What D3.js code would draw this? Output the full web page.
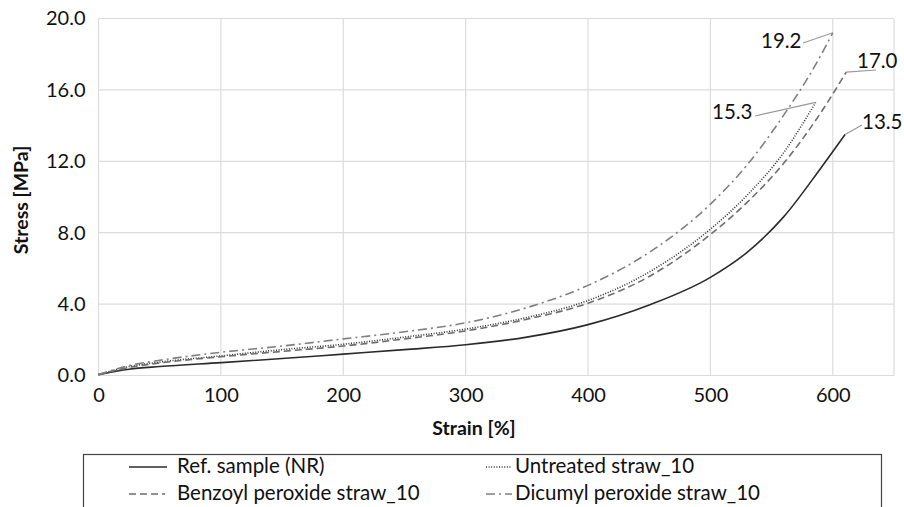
<!DOCTYPE html>
<html>
<head>
<meta charset="utf-8">
<script src="https://cdn.jsdelivr.net/npm/d3@7"></script>
<style>
  body { margin: 0; background: #fff; }
  svg { font-family: Lato, "Open Sans", sans-serif; }
</style>
</head>
<body>
<div id="chart"></div>
<script>
// strain [%] / stress [MPa]
var refStrain = [0, 25, 50, 100, 150, 200, 250, 300, 350, 400, 450, 500, 530, 560, 590, 610]
var refStress = [0.05, 0.35, 0.5, 0.72, 0.95, 1.2, 1.45, 1.72, 2.15, 2.85, 3.95, 5.5, 6.9, 8.9, 11.6, 13.5]

var untStrain = [0, 25, 50, 100, 150, 200, 250, 300, 350, 400, 450, 500, 530, 560, 586]
var untStress = [0.05, 0.5, 0.75, 1.1, 1.45, 1.75, 2.15, 2.6, 3.25, 4.2, 5.8, 8.2, 10.1, 12.5, 15.3]

var benStrain = [0, 25, 50, 100, 150, 200, 250, 300, 350, 400, 450, 500, 530, 560, 590, 611]
var benStress = [0.05, 0.45, 0.7, 1.05, 1.35, 1.65, 2.05, 2.5, 3.15, 4.05, 5.55, 7.9, 9.7, 11.9, 14.7, 17.0]

var dicStrain = [0, 25, 50, 100, 150, 200, 250, 300, 350, 400, 450, 500, 530, 560, 585, 600]
var dicStress = [0.05, 0.55, 0.85, 1.3, 1.65, 2.05, 2.45, 2.95, 3.8, 5.05, 6.9, 9.6, 11.8, 14.6, 17.3, 19.2]

var seriesNames = ['Ref. sample (NR)', 'Untreated straw_10', 'Benzoyl peroxide straw_10', 'Dicumyl peroxide straw_10']
var endLabels = ['13.5', '15.3', '17.0', '19.2']
var xTicks = [0, 100, 200, 300, 400, 500, 600]
var yTicks = [0, 4, 8, 12, 16, 20]

function zip(xs, ys) { return xs.map((x, i) => ({ x: x, y: ys[i] })) }

var series = [
  { name: seriesNames[0], pts: zip(refStrain, refStress), color: '#2b2b2b', width: 1.6, dash: null, label: endLabels[0], lx: 862, ly: 129, ax: 862, ay: 125 },
  { name: seriesNames[1], pts: zip(untStrain, untStress), color: '#333', width: 1.6, dash: '1,1.6', label: endLabels[1], lx: 712, ly: 119, ax: 755, ay: 116 },
  { name: seriesNames[2], pts: zip(benStrain, benStress), color: '#6e6e6e', width: 1.6, dash: '7,4', label: endLabels[2], lx: 857, ly: 68, ax: 876, ay: 70 },
  { name: seriesNames[3], pts: zip(dicStrain, dicStress), color: '#808080', width: 1.6, dash: '9,4,2,4', label: endLabels[3], lx: 761, ly: 48, ax: 803, ay: 43 }
]

var W = 904, H = 507
var svg = d3.select('#chart').append('svg').attr('width', W).attr('height', H)

var x = d3.scaleLinear().domain([0, 650]).range([98.5, 894])
var y = d3.scaleLinear().domain([0, 20]).range([375.5, 18.5])

// grid
var g = svg.append('g')
g.selectAll('.vg').data(xTicks.concat([650])).enter().append('line')
  .attr('x1', d => x(d)).attr('x2', d => x(d))
  .attr('y1', y(0)).attr('y2', y(20))
  .attr('stroke', '#dcdcdc').attr('stroke-width', 1.2)
g.selectAll('.hg').data(yTicks).enter().append('line')
  .attr('x1', x(0)).attr('x2', x(650))
  .attr('y1', d => y(d)).attr('y2', d => y(d))
  .attr('stroke', '#dcdcdc').attr('stroke-width', 1.2)

// axes (labels only)
svg.append('g').attr('transform', 'translate(0,' + y(0) + ')')
  .call(d3.axisBottom(x).tickValues(xTicks).tickSize(0).tickPadding(12).tickFormat(d3.format('d')))
svg.append('g').attr('transform', 'translate(' + x(0) + ',0)')
  .call(d3.axisLeft(y).tickValues(yTicks).tickSize(0).tickPadding(13).tickFormat(d3.format('.1f')))
svg.selectAll('.domain').remove()
svg.selectAll('.tick text').attr('font-size', 20).attr('fill', '#111').attr('font-family', 'Lato, sans-serif')

svg.append('text').attr('x', 474).attr('y', 435).attr('text-anchor', 'middle')
  .attr('font-size', 19.5).attr('font-weight', 'bold').attr('fill', '#111').text('Strain [%]')
svg.append('text').attr('transform', 'translate(28,200) rotate(-90)').attr('text-anchor', 'middle')
  .attr('font-size', 19.5).attr('font-weight', 'bold').attr('fill', '#111').text('Stress [MPa]')

// curves
var line = d3.line().x(d => x(d.x)).y(d => y(d.y)).curve(d3.curveMonotoneX)
svg.selectAll('.curve').data(series).enter().append('path')
  .attr('d', d => line(d.pts))
  .attr('fill', 'none')
  .attr('stroke', d => d.color)
  .attr('stroke-width', d => d.width)
  .attr('stroke-dasharray', d => d.dash)

// end labels with leader lines
series.forEach(function (s) {
  var last = s.pts[s.pts.length - 1]
  svg.append('line').attr('x1', s.ax).attr('y1', s.ay).attr('x2', x(last.x)).attr('y2', y(last.y))
    .attr('stroke', '#999').attr('stroke-width', 1.2)
  svg.append('text').attr('x', s.lx).attr('y', s.ly).attr('font-size', 20.5).attr('fill', '#111').text(s.label)
})

// legend
var leg = svg.append('g')
leg.append('rect').attr('x', 83.5).attr('y', 454.5).attr('width', 798).attr('height', 70)
  .attr('fill', '#fff').attr('stroke', '#444').attr('stroke-width', 1.2)
var legPos = [[129, 473, 38, 177], [486, 473, 26, 515], [129, 500, 36, 177], [486, 500, 26, 515]]
series.forEach(function (s, i) {
  var p = legPos[i]
  leg.append('line').attr('x1', p[0]).attr('x2', p[0] + p[2]).attr('y1', p[1] - 6).attr('y2', p[1] - 6)
    .attr('stroke', s.color).attr('stroke-width', s.width).attr('stroke-dasharray', s.dash)
  leg.append('text').attr('x', p[3]).attr('y', p[1]).attr('font-size', 20.5).attr('fill', '#111').text(s.name)
})
</script>
</body>
</html>
